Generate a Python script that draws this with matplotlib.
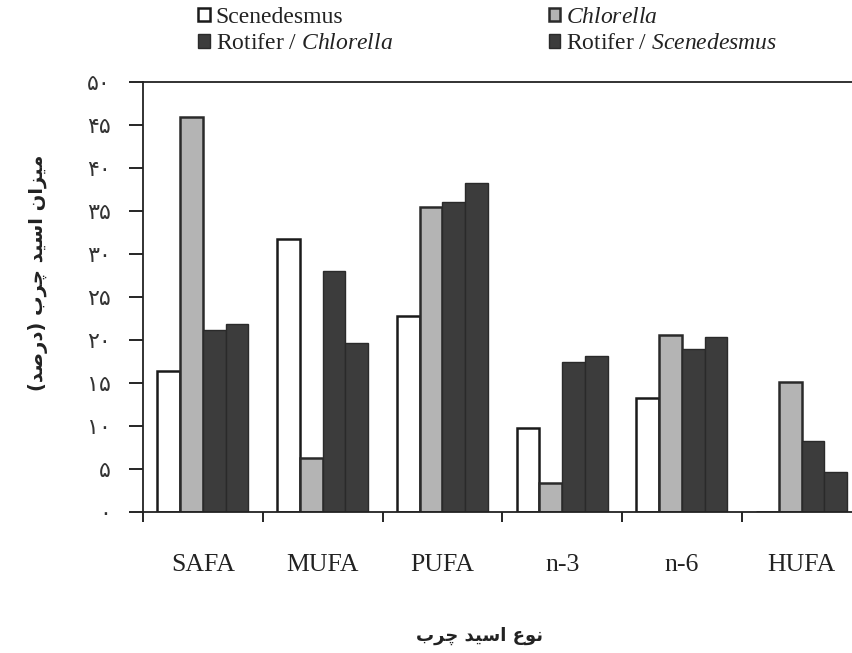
import numpy as np
import matplotlib
matplotlib.use("Agg")
import matplotlib.pyplot as plt
from matplotlib.patches import Patch

plt.rcParams['font.family'] = ['Liberation Serif', 'DejaVu Sans']
plt.rcParams['mathtext.fontset'] = 'custom'
plt.rcParams['mathtext.rm'] = 'Liberation Serif'
plt.rcParams['mathtext.it'] = 'Liberation Serif:italic'

# data (percent of total fatty acids)
categories = ['SAFA', 'MUFA', 'PUFA', 'n-3', 'n-6', 'HUFA']
scenedesmus = [16.4, 31.7, 22.8, 9.8, 13.2, 0.0]
chlorella = [45.9, 6.3, 35.5, 3.4, 20.6, 15.1]
rotifer_chl = [21.2, 28.0, 36.1, 17.4, 18.9, 8.2]
rotifer_scen = [21.9, 19.7, 38.3, 18.1, 20.4, 4.6]

yticks = [0, 5, 10, 15, 20, 25, 30, 35, 40, 45, 50]
ytick_labels = ['۰', '۵', '۱۰', '۱۵', '۲۰', '۲۵', '۳۰', '۳۵', '۴۰', '۴۵', '۵۰']

# persian labels, already shaped (presentation forms) and in visual order
ylabel_fa = '(\uFEAA\uFEBB\uFEAD\uFEA9) \uFE8F\uFEAE\uFB7C \uFEAA\uFBFF\uFEB3\uFE8D \uFEE5\uFE8D\uFEB0\uFBFF\uFEE3'
xlabel_fa = '\uFE8F\uFEAE\uFB7C \uFEAA\uFBFF\uFEB3\uFE8D \uFEC9\uFEEE\uFEE7'

fig = plt.figure(figsize=(8.52, 6.53), dpi=100)
ax = fig.add_axes([143/852, 1 - 512/653, 1 - 143/852, (512 - 82)/653])

x = np.arange(len(categories))
w = 0.19
white = dict(facecolor='white', edgecolor='#1a1a1a', linewidth=1.8)
gray = dict(facecolor='#b4b4b4', edgecolor='#2a2a2a', linewidth=1.8)
dark = dict(facecolor='#3c3c3c', edgecolor='#2a2a2a', linewidth=1.0)

ax.bar(x - 1.5*w, scenedesmus, w, **white)
ax.bar(x - 0.5*w, chlorella, w, **gray)
ax.bar(x + 0.5*w, rotifer_chl, w, **dark)
ax.bar(x + 1.5*w, rotifer_scen, w, **dark)

ax.set_xlim(-0.5, 5.42)
ax.set_ylim(0, 50)
ax.spines['right'].set_visible(False)
for s in ['left', 'top', 'bottom']:
    ax.spines[s].set_linewidth(1.3)
    ax.spines[s].set_color('#222222')

ax.set_xticks(np.arange(-0.5, 5, 1.0))
ax.set_xticklabels([])
ax.set_xticks(x, categories, minor=True)
ax.tick_params(axis='x', which='major', direction='out', length=7, width=1.2)
ax.tick_params(axis='x', which='minor', length=0, pad=30, labelsize=18.5, labelcolor='#222222')

ax.set_yticks(yticks, ytick_labels)
ax.tick_params(axis='y', direction='out', length=10, width=1.2, pad=13,
               labelsize=16, labelcolor='#333333')
for t in ax.get_yticklabels():
    t.set_fontfamily('DejaVu Sans')

fig.text(38/852, 1 - 273/653, ylabel_fa, rotation=90, ha='center', va='center',
         fontsize=14, fontfamily='DejaVu Sans', fontweight='semibold', color='#222222')
fig.text(480/852, 1 - 636/653, xlabel_fa, ha='center', va='center',
         fontsize=13, fontfamily='DejaVu Sans', fontweight='bold', color='#222222')

handles = [Patch(**white), Patch(**dark), Patch(**gray), Patch(**dark)]
labels = ['Scenedesmus', r'Rotifer / $\mathit{Chlorella}$',
          r'$\mathit{Chlorella}$', r'Rotifer / $\mathit{Scenedesmus}$']
fig.legend(handles, labels, loc='upper left', bbox_to_anchor=(198/852, 1 - 7/653),
           ncol=2, frameon=False, fontsize=17, handlelength=0.5, handleheight=0.5,
           handletextpad=0.25, columnspacing=6.6, labelspacing=0.22, borderpad=0,
           borderaxespad=0, labelcolor='#222222')

fig.savefig('out.png', dpi=100)
